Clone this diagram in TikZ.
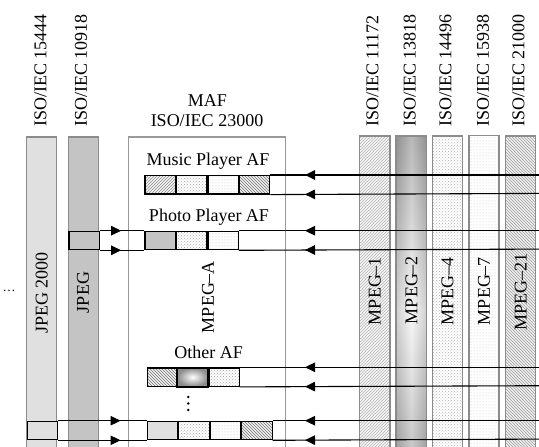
\documentclass[tikz,border=0pt]{standalone}
\usepackage{fontspec}
\setmainfont{Liberation Serif}
\usetikzlibrary{patterns,arrows.meta,decorations.markings}
\definecolor{colbd}{HTML}{8C8C8C}
\definecolor{jptwo}{HTML}{E0E0E0}
\definecolor{jpg}{HTML}{C4C4C4}
\tikzset{
  col/.style={draw=colbd, line width=1.4pt},
  lbl/.style={font=\fontsize{18}{20}\selectfont, inner sep=0pt},
  toplbl/.style={lbl, rotate=90, anchor=west},
  collbl/.style={lbl, rotate=90},
  cell/.style={draw=black, line width=1.2pt, inner sep=0pt, minimum width=30.3pt, minimum height=18.4pt, anchor=north west},
  sm1/.style={preaction={fill=black!4}, pattern=north east lines, pattern color=black!45},
  sm4/.style={preaction={fill=white}, pattern=crosshatch dots, pattern color=black!35},
  sm7/.style={preaction={fill=white}, pattern=dots, pattern color=black!28},
  sm21/.style={preaction={fill=black!5}, pattern=north west lines, pattern color=black!55},
  cm1/.style={preaction={fill=black!3}, pattern=north east lines, pattern color=black!30},
  cm4/.style={preaction={fill=white}, pattern=crosshatch dots, pattern color=black!28},
  cm7/.style={preaction={fill=white}, pattern=dots, pattern color=black!22},
  cm21/.style={preaction={fill=black!5}, pattern=north west lines, pattern color=black!40},
  sjp2/.style={fill=jptwo},
  sjpg/.style={fill=jpg},
  link/.style={draw=black, line width=1.1pt},
  tipat/.style={postaction={decorate, decoration={markings, mark=at position #1 with {\arrow{Triangle[length=10pt,width=9.5pt]}}}}},
}
\begin{document}
\begin{tikzpicture}[x=1pt,y=-1pt]
\useasboundingbox (0,0) rectangle (539,447);
\clip (0,0) rectangle (539,447);
% left columns
\path[col, sjp2] (26.7,137) rectangle (56.7,470);
\path[col, sjpg] (68.3,137) rectangle (98.3,470);
% MAF box
\draw[draw=black!40, line width=1.2pt, fill=white] (128.5,137) rectangle (285.7,470);
% right columns
\path[col, cm1] (359.3,136) rectangle (390,470);
\shade[top color=black!42, bottom color=black!42, middle color=black!4] (396,136) rectangle (426.7,490);
\shade[left color=black!45, right color=black!45, middle color=white, opacity=0.35] (396,136) rectangle (426.7,490);
\draw[col] (396,136) rectangle (426.7,490);
\path[col, cm4] (432.3,136) rectangle (462.7,470);
\path[col, cm7] (469,135.5) rectangle (499,470);
\path[col, cm21] (505.7,136) rectangle (535.7,470);
% top labels
\node[toplbl] (t15444) at (40.5,127) {ISO/IEC 15444};
\node[toplbl] (t10918) at (81,127) {ISO/IEC 10918};
\node[toplbl] (t11172) at (372.5,127) {ISO/IEC 11172};
\node[toplbl] (t13818) at (409.7,127) {ISO/IEC 13818};
\node[toplbl] (t14496) at (445.5,127) {ISO/IEC 14496};
\node[toplbl] (t15938) at (483,127) {ISO/IEC 15938};
\node[toplbl] (t21000) at (518.5,127) {ISO/IEC 21000};
\node[lbl, anchor=base] (maf) at (207.5,106.7) {MAF};
\node[lbl, anchor=base] (maf2) at (207,126.7) {ISO/IEC 23000};
% column labels
\node[collbl] (ljp2) at (41.7,293) {JPEG 2000};
\node[collbl] (ljpg) at (83,292.5) {JPEG};
\node[collbl] (lmpa) at (208,297) {MPEG--A};
\node[collbl] (lm1) at (374.7,291) {MPEG--1};
\node[collbl] (lm2) at (411.5,290) {MPEG--2};
\node[collbl] (lm4) at (447.5,291.5) {MPEG--4};
\node[collbl] (lm7) at (484,291) {MPEG--7};
\node[collbl] (lm21) at (520.7,292) {MPEG--21};
\node[font=\fontsize{13}{15}\selectfont, inner sep=0pt] (ell) at (9,291) {…};
% strip labels
\node[lbl, anchor=base] (lmus) at (208,165) {Music Player AF};
\node[lbl, anchor=base] (lpho) at (209,221) {Photo Player AF};
\node[lbl, anchor=base] (loth) at (208.7,358.3) {Other AF};
% Music strip
\node[cell, sm1] (mu1) at (144.3,175) {};
\node[cell, sm4] (mu2) at (mu1.north east) {};
\node[cell, sm7] (mu3) at (mu2.north east) {};
\node[cell, sm21] (mu4) at (mu3.north east) {};
% Photo strip
\node[cell, sjpg] (ph1) at (144.3,230.7) {};
\node[cell, sm4] (ph2) at (ph1.north east) {};
\node[cell, sm7] (ph3) at (ph2.north east) {};
% Other strip
\node[cell, inner color=white, outer color=black!45, shade] (ot2) at (176.9,367.3) {};
\node[cell, sm21] (ot1) at (146.6,367.3) {};
\node[cell, sm4] (ot3) at (ot2.north east) {};
\draw[line width=1.2pt] (ot2.north west) rectangle (ot2.south east);
% bottom strip
\node[cell, sjp2] (bo1) at (146.7,420.7) {};
\node[cell, sm4] (bo2) at (bo1.north east) {};
\node[cell, sm7] (bo3) at (bo2.north east) {};
\node[cell, sm21] (bo4) at (bo3.north east) {};
% source boxes
\node[cell, sjpg, minimum width=30.7pt] (jb) at (68.3,230.7) {};
\node[cell, sjp2, minimum width=30pt] (j2b) at (26.7,420.7) {};
% vertical dots
\fill (188.3,397) circle (1.4) (188.3,403.5) circle (1.4) (188.3,410) circle (1.4);
% right edge coordinates
\coordinate (r1) at (539,175);
\coordinate (r2) at (539,193.4);
\coordinate (r3) at (539,230.7);
\coordinate (r4) at (539,249.1);
\coordinate (r5) at (539,367.3);
\coordinate (r6) at (539,385.7);
\coordinate (r7) at (539,420.7);
\coordinate (r8) at (539,439.1);
% connectors
\draw[link, tipat=234pt] (r1) -- (mu4.north east);
\draw[link, tipat=234pt] (r2) -- (mu4.south east);
\draw[link, tipat=234pt] (r3) -- (ph3.north east);
\draw[link, tipat=234pt] (r4) -- (ph3.south east);
\draw[link, tipat=234pt] (r5) -- (ot3.north east);
\draw[link, tipat=234pt] (r6) -- (ot3.south east);
\draw[link, tipat=234pt] (r7) -- (bo4.north east);
\draw[link, tipat=234pt] (r8) -- (bo4.south east);
\draw[link, tipat=21pt] (jb.north east) -- (ph1.north west);
\draw[link, tipat=21pt] (jb.south east) -- (ph1.south west);
\draw[link, tipat=62.6pt] (j2b.north east) -- (bo1.north west);
\draw[link, tipat=62.6pt] (j2b.south east) -- (bo1.south west);
\end{tikzpicture}
\end{document}
